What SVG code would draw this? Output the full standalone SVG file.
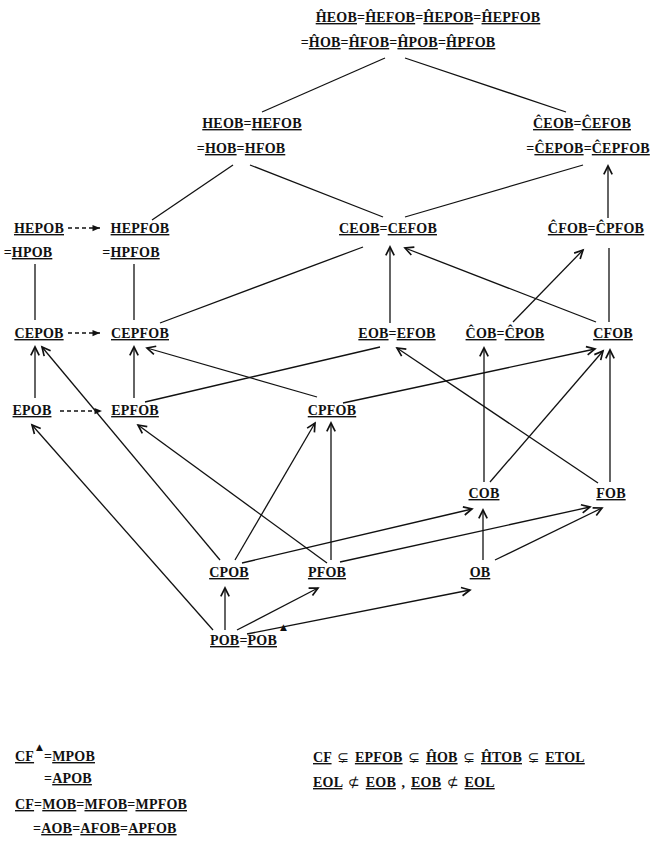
<svg xmlns="http://www.w3.org/2000/svg" width="651" height="848" viewBox="0 0 651 848">
<style>
text{font-family:"Liberation Serif","DejaVu Serif",serif;font-weight:bold;font-size:14px;letter-spacing:0.2px;fill:#111}
.m{text-anchor:middle}
.u{text-decoration:underline;text-decoration-thickness:1.4px;text-underline-offset:3px}
.sym{font-family:"DejaVu Sans",sans-serif;font-weight:normal;font-size:14px}
.tri{font-family:"DejaVu Sans",sans-serif;font-size:9px}
#connectors line{stroke:#111;stroke-width:1.3;fill:none}
#connectors .a{marker-end:url(#ah)}
#connectors .d{stroke-dasharray:4 3;marker-end:url(#dh)}
</style>
<defs>
<marker id="ah" markerUnits="userSpaceOnUse" markerWidth="12" markerHeight="12" viewBox="-8 -5 10 10" refX="0" refY="0" orient="auto">
<path d="M-7,-3.5 L0,0 L-7,3.5" fill="none" stroke="#111" stroke-width="1.4"/>
</marker>
<marker id="dh" markerUnits="userSpaceOnUse" markerWidth="10" markerHeight="10" viewBox="-7 -4 8 8" refX="0" refY="0" orient="auto">
<path d="M-6,-2.5 L0,0 L-6,2.5 Z" fill="#111"/>
</marker>
</defs>

<g id="connectors">
<line x1="385" y1="58" x2="262" y2="112"/>
<line x1="405" y1="58" x2="566" y2="112"/>
<line x1="233" y1="165" x2="152" y2="220"/>
<line x1="250" y1="165" x2="383" y2="217"/>
<line x1="583" y1="165" x2="405" y2="217"/>
<line class="a" x1="608" y1="218" x2="608" y2="166"/>
<line x1="35" y1="264" x2="35" y2="320"/>
<line x1="134" y1="264" x2="134" y2="320"/>
<line class="d" x1="68" y1="228" x2="100" y2="228"/>
<line class="d" x1="68" y1="333" x2="100" y2="333"/>
<line class="d" x1="60" y1="411" x2="102" y2="411"/>
<line x1="160" y1="323" x2="363" y2="247"/>
<line class="a" x1="390" y1="323" x2="390" y2="247"/>
<line class="a" x1="596" y1="322" x2="405" y2="248"/>
<line class="a" x1="513" y1="322" x2="583" y2="250"/>
<line x1="609" y1="322" x2="609" y2="248"/>
<line class="a" x1="35" y1="398" x2="35" y2="347"/>
<line class="a" x1="220" y1="560" x2="42" y2="347"/>
<line class="a" x1="134" y1="398" x2="134" y2="347"/>
<line class="a" x1="317" y1="397" x2="147" y2="348"/>
<line x1="145" y1="402" x2="380" y2="347"/>
<line class="a" x1="598" y1="483" x2="397" y2="348"/>
<line class="a" x1="484" y1="482" x2="484" y2="348"/>
<line class="a" x1="343" y1="403" x2="595" y2="349"/>
<line class="a" x1="490" y1="482" x2="603" y2="351"/>
<line class="a" x1="610" y1="482" x2="610" y2="350"/>
<line class="a" x1="213" y1="630" x2="32" y2="425"/>
<line class="a" x1="327" y1="563" x2="138" y2="425"/>
<line class="a" x1="235" y1="560" x2="315" y2="423"/>
<line class="a" x1="331" y1="560" x2="331" y2="423"/>
<line class="a" x1="242" y1="563" x2="472" y2="509"/>
<line class="a" x1="340" y1="562" x2="590" y2="507"/>
<line class="a" x1="483" y1="560" x2="483" y2="510"/>
<line class="a" x1="495" y1="560" x2="602" y2="508"/>
<line class="a" x1="225" y1="630" x2="225" y2="588"/>
<line class="a" x1="237" y1="630" x2="318" y2="588"/>
<line class="a" x1="247" y1="634" x2="470" y2="590"/>
</g>

<g id="n-top">
<text class="m" x="428" y="22"><tspan class="u">ĤEOB</tspan>=<tspan class="u">ĤEFOB</tspan>=<tspan class="u">ĤEPOB</tspan>=<tspan class="u">ĤEPFOB</tspan></text>
<text class="m" x="398" y="47">=<tspan class="u">ĤOB</tspan>=<tspan class="u">ĤFOB</tspan>=<tspan class="u">ĤPOB</tspan>=<tspan class="u">ĤPFOB</tspan></text>
</g>
<g id="n-heob">
<text class="m" x="252" y="128"><tspan class="u">HEOB</tspan>=<tspan class="u">HEFOB</tspan></text>
<text class="m" x="241" y="153">=<tspan class="u">HOB</tspan>=<tspan class="u">HFOB</tspan></text>
</g>
<g id="n-ceob-hat">
<text class="m" x="582" y="128"><tspan class="u">ĈEOB</tspan>=<tspan class="u">ĈEFOB</tspan></text>
<text class="m" x="588" y="153">=<tspan class="u">ĈEPOB</tspan>=<tspan class="u">ĈEPFOB</tspan></text>
</g>
<g id="n-hepob">
<text class="m" x="39" y="233"><tspan class="u">HEPOB</tspan></text>
<text class="m" x="28" y="257">=<tspan class="u">HPOB</tspan></text>
</g>
<g id="n-hepfob">
<text class="m" x="140" y="233"><tspan class="u">HEPFOB</tspan></text>
<text class="m" x="131" y="257">=<tspan class="u">HPFOB</tspan></text>
</g>
<g id="n-ceob">
<text class="m" x="388" y="233"><tspan class="u">CEOB</tspan>=<tspan class="u">CEFOB</tspan></text>
</g>
<g id="n-cfob-hat">
<text class="m" x="596" y="233"><tspan class="u">ĈFOB</tspan>=<tspan class="u">ĈPFOB</tspan></text>
</g>
<g id="n-cepob">
<text class="m" x="39" y="338"><tspan class="u">CEPOB</tspan></text>
</g>
<g id="n-cepfob">
<text class="m" x="140" y="338"><tspan class="u">CEPFOB</tspan></text>
</g>
<g id="n-eob">
<text class="m" x="397" y="338"><tspan class="u">EOB</tspan>=<tspan class="u">EFOB</tspan></text>
</g>
<g id="n-cob-hat">
<text class="m" x="505" y="338"><tspan class="u">ĈOB</tspan>=<tspan class="u">ĈPOB</tspan></text>
</g>
<g id="n-cfob">
<text class="m" x="613" y="338"><tspan class="u">CFOB</tspan></text>
</g>
<g id="n-epob">
<text class="m" x="32" y="415"><tspan class="u">EPOB</tspan></text>
</g>
<g id="n-epfob">
<text class="m" x="135" y="415"><tspan class="u">EPFOB</tspan></text>
</g>
<g id="n-cpfob">
<text class="m" x="332" y="415"><tspan class="u">CPFOB</tspan></text>
</g>
<g id="n-cob">
<text class="m" x="484" y="498"><tspan class="u">COB</tspan></text>
</g>
<g id="n-fob">
<text class="m" x="611" y="498"><tspan class="u">FOB</tspan></text>
</g>
<g id="n-cpob">
<text class="m" x="229" y="577"><tspan class="u">CPOB</tspan></text>
</g>
<g id="n-pfob">
<text class="m" x="327" y="577"><tspan class="u">PFOB</tspan></text>
</g>
<g id="n-ob">
<text class="m" x="480" y="577"><tspan class="u">OB</tspan></text>
</g>
<g id="n-pob">
<text x="210" y="645"><tspan class="u">POB</tspan>=<tspan class="u">POB</tspan></text>
<text class="tri" x="280" y="630">▲</text>
</g>

<g id="notes-left">
<text x="15" y="761"><tspan class="u">CF</tspan></text>
<text class="tri" x="36" y="750">▲</text>
<text x="44" y="761">=<tspan class="u">MPOB</tspan></text>
<text x="44" y="783">=<tspan class="u">APOB</tspan></text>
<text x="15" y="809"><tspan class="u">CF</tspan>=<tspan class="u">MOB</tspan>=<tspan class="u">MFOB</tspan>=<tspan class="u">MPFOB</tspan></text>
<text x="33" y="833">=<tspan class="u">AOB</tspan>=<tspan class="u">AFOB</tspan>=<tspan class="u">APFOB</tspan></text>
</g>
<g id="notes-right">
<text x="313" y="762" word-spacing="2"><tspan class="u">CF</tspan> <tspan class="sym">⊊</tspan> <tspan class="u">EPFOB</tspan> <tspan class="sym">⊊</tspan> <tspan class="u">ĤOB</tspan> <tspan class="sym">⊊</tspan> <tspan class="u">ĤTOB</tspan> <tspan class="sym">⊊</tspan> <tspan class="u">ETOL</tspan></text>
<text x="313" y="787" word-spacing="2"><tspan class="u">EOL</tspan> <tspan class="sym">⊄</tspan> <tspan class="u">EOB</tspan>  , <tspan class="u">EOB</tspan> <tspan class="sym">⊄</tspan> <tspan class="u">EOL</tspan></text>
</g>
</svg>
